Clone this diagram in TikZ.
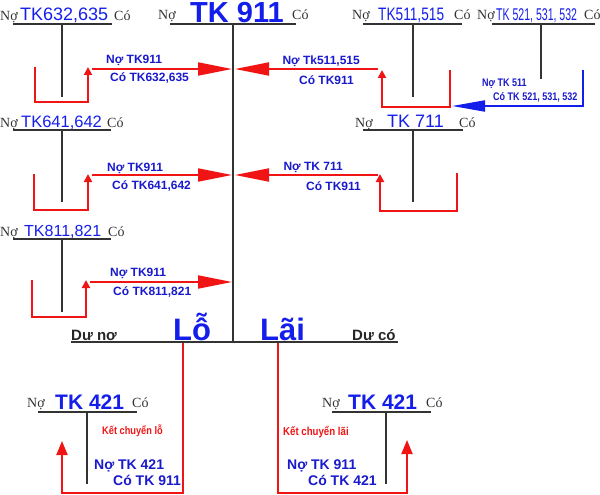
\documentclass[tikz,border=0pt]{standalone}
\usepackage{fontspec}
\setmainfont{Liberation Serif}
\newfontfamily\arialf{Liberation Sans}
\usetikzlibrary{arrows.meta}
\definecolor{tkblue}{RGB}{20,30,235}
\definecolor{lblblue}{RGB}{25,25,205}
\definecolor{tkred}{RGB}{240,20,20}
\begin{document}
\begin{tikzpicture}[x=1pt,y=-1pt,
 side/.style={font=\fontsize{14}{14}\selectfont, inner sep=0, text=black!80, anchor=base west},
 acct/.style={font=\arialf\fontsize{#1}{#1}\selectfont, text=tkblue, inner sep=0, anchor=base west},
 bigacct/.style={font=\arialf\bfseries\fontsize{#1}{#1}\selectfont, text=tkblue, inner sep=0, anchor=base west},
 lbl/.style={font=\arialf\bfseries\fontsize{12}{12}\selectfont, text=lblblue, inner sep=0},
 smlbl/.style={font=\arialf\bfseries\fontsize{11}{11}\selectfont, text=lblblue, inner sep=0, anchor=west},
 redlbl/.style={font=\arialf\bfseries\fontsize{#1}{#1}\selectfont, text=tkred, inner sep=0, anchor=west},
 duo/.style={font=\arialf\bfseries\fontsize{15}{15}\selectfont, text=black!85, inner sep=0, anchor=base west},
 tline/.style={line width=2pt, draw=black!80},
 rline/.style={line width=2pt, draw=tkred},
 bline/.style={line width=2pt, draw=tkblue},
 bigtip/.style={-{Triangle[length=34pt,width=13pt]}},
 bluetip/.style={-{Triangle[length=33pt,width=11pt]}},
 smalltip/.style={-{Triangle[length=8pt,width=8pt]}},
 uptip/.style={-{Triangle[length=14pt,width=11pt]}},
]
\useasboundingbox (0,0) rectangle (600,495);

% ---------- TK 911 ----------
\node[side] (n911) at (158,20) {Nợ};
\node[bigacct=29] (t911) at (190,23) {TK 911};
\node[side] (c911) at (292,20) {Có};
\coordinate (a911l) at (170,24); \coordinate (a911r) at (296,24);
\coordinate (v911t) at (233,24); \coordinate (v911b) at (233,342);
\draw[tline] (a911l) -- (a911r);
\draw[tline] (v911t) -- (v911b);

% ---------- TK632,635 ----------
\node[side] (n632) at (0,21) {Nợ};
\node[acct=18] (t632) at (20,21) {TK632,635};
\node[side] (c632) at (114,21) {Có};
\coordinate (a632l) at (13,24); \coordinate (a632r) at (112,24);
\coordinate (v632t) at (62,24); \coordinate (v632b) at (62,97);
\draw[tline] (a632l) -- (a632r);
\draw[tline] (v632t) -- (v632b);
\coordinate (u1a) at (35,67); \coordinate (u1c) at (88,102); \coordinate (u1d) at (88,67);
\draw[rline,smalltip] (u1a) |- (u1c) -- (u1d);
\coordinate (r1s) at (92,69); \coordinate (r1e) at (232,69);
\draw[rline,bigtip] (r1s) -- (r1e);
\node[lbl,anchor=west] (l1a) at (106,60) {Nợ TK911};
\node[lbl,anchor=west] (l1b) at (110,78) {Có TK632,635};

% ---------- TK641,642 ----------
\node[side] (n641) at (0,127) {Nợ};
\node[acct=16.5] (t641) at (21,127) {TK641,642};
\node[side] (c641) at (107,127) {Có};
\coordinate (a641l) at (13,130); \coordinate (a641r) at (111,130);
\coordinate (v641t) at (62,130); \coordinate (v641b) at (62,202);
\draw[tline] (a641l) -- (a641r);
\draw[tline] (v641t) -- (v641b);
\coordinate (u2a) at (34,174); \coordinate (u2c) at (88,210); \coordinate (u2d) at (88,174);
\draw[rline,smalltip] (u2a) |- (u2c) -- (u2d);
\coordinate (r2s) at (92,175); \coordinate (r2e) at (232,175);
\draw[rline,bigtip] (r2s) -- (r2e);
\node[lbl,anchor=west] (l2a) at (107,168) {Nợ TK911};
\node[lbl,anchor=west] (l2b) at (112,186) {Có TK641,642};

% ---------- TK811,821 ----------
\node[side] (n811) at (0,236) {Nợ};
\node[acct=16] (t811) at (24,236) {TK811,821};
\node[side] (c811) at (108,236) {Có};
\coordinate (a811l) at (13,239); \coordinate (a811r) at (111,239);
\coordinate (v811t) at (62,239); \coordinate (v811b) at (62,312);
\draw[tline] (a811l) -- (a811r);
\draw[tline] (v811t) -- (v811b);
\coordinate (u3a) at (32,280); \coordinate (u3c) at (86,317); \coordinate (u3d) at (86,280);
\draw[rline,smalltip] (u3a) |- (u3c) -- (u3d);
\coordinate (r3s) at (90,282); \coordinate (r3e) at (232,282);
\draw[rline,bigtip] (r3s) -- (r3e);
\node[lbl,anchor=west] (l3a) at (110,273) {Nợ TK911};
\node[lbl,anchor=west] (l3b) at (113,292) {Có TK811,821};

% ---------- TK511,515 ----------
\node[side] (n511) at (352,20) {Nợ};
\node[acct=18] (t511) at (378,21) {\scalebox{0.76}[1]{TK511,515}};
\node[side] (c511) at (454,20) {Có};
\coordinate (a511l) at (363,24); \coordinate (a511r) at (462,24);
\coordinate (v511t) at (413,24); \coordinate (v511b) at (413,97);
\draw[tline] (a511l) -- (a511r);
\draw[tline] (v511t) -- (v511b);
\coordinate (u4a) at (450,70); \coordinate (u4c) at (382,107); \coordinate (u4d) at (382,70);
\draw[rline,smalltip] (u4a) |- (u4c) -- (u4d);
\coordinate (r4s) at (378,69); \coordinate (r4e) at (235,69);
\draw[rline,bigtip] (r4s) -- (r4e);
\node[lbl,anchor=east] (l4a) at (360,61) {Nợ Tk511,515};
\node[lbl,anchor=east] (l4b) at (354,80) {Có TK911};

% ---------- TK 521, 531, 532 ----------
\node[side] (n521) at (477,20) {Nợ};
\node[acct=17] (t521) at (496,21) {\scalebox{0.62}[1]{TK 521, 531, 532}};
\node[side] (c521) at (584,20) {Có};
\coordinate (a521l) at (492,24); \coordinate (a521r) at (595,24);
\coordinate (v521t) at (541,24); \coordinate (v521b) at (541,79);
\draw[tline] (a521l) -- (a521r);
\draw[tline] (v521t) -- (v521b);
\coordinate (b1) at (583,70); \coordinate (b2) at (452,106);
\draw[bline,bluetip] (b1) |- (b2);
\node[smlbl] (l5a) at (482,84) {\scalebox{0.82}[1]{Nợ TK 511}};
\node[smlbl] (l5b) at (493,97) {\scalebox{0.82}[1]{Có TK 521, 531, 532}};

% ---------- TK 711 ----------
\node[side] (n711) at (355,127) {Nợ};
\node[acct=18] (t711) at (387,127) {TK 711};
\node[side] (c711) at (459,127) {Có};
\coordinate (a711l) at (363,130); \coordinate (a711r) at (463,130);
\coordinate (v711t) at (413,130); \coordinate (v711b) at (413,202);
\draw[tline] (a711l) -- (a711r);
\draw[tline] (v711t) -- (v711b);
\coordinate (u6a) at (457,173); \coordinate (u6c) at (380,211); \coordinate (u6d) at (380,174);
\draw[rline,smalltip] (u6a) |- (u6c) -- (u6d);
\coordinate (r6s) at (378,175); \coordinate (r6e) at (235,175);
\draw[rline,bigtip] (r6s) -- (r6e);
\node[lbl,anchor=east] (l6a) at (343,167) {Nợ TK 711};
\node[lbl,anchor=east] (l6b) at (361,186) {Có TK911};

% ---------- result line ----------
\node[duo] (duno) at (71,340) {Dư nơ};
\node[duo] (duco) at (352,340) {Dư có};
\node[bigacct=31] (lo) at (173,340) {Lỗ};
\node[bigacct=31] (lai) at (260,340) {Lãi};
\coordinate (resl) at (71,342); \coordinate (resr) at (398,342);
\draw[tline] (resl) -- (resr);

% ---------- TK 421 left ----------
\node[side] (n421a) at (27,407) {Nợ};
\node[bigacct=21] (t421a) at (55,409) {TK 421};
\node[side] (c421a) at (132,407) {Có};
\coordinate (a421al) at (38,412); \coordinate (a421ar) at (137,412);
\coordinate (v421at) at (87,412); \coordinate (v421ab) at (87,484);
\draw[tline] (a421al) -- (a421ar);
\draw[tline] (v421at) -- (v421ab);
\coordinate (lo1) at (183,343); \coordinate (lo2) at (62,493); \coordinate (lo3) at (62,441);
\draw[rline,uptip] (lo1) |- (lo2) -- (lo3);
\node[redlbl=11] (k1) at (102,431) {\scalebox{0.84}[1]{Kết chuyển lỗ}};
\node[lbl,anchor=west,font=\arialf\bfseries\fontsize{14}{14}\selectfont] (k1a) at (94,466) {Nợ TK 421};
\node[lbl,anchor=west,font=\arialf\bfseries\fontsize{14}{14}\selectfont] (k1b) at (113,480) {Có TK 911};

% ---------- TK 421 right ----------
\node[side] (n421b) at (322,407) {Nợ};
\node[bigacct=21] (t421b) at (348,409) {TK 421};
\node[side] (c421b) at (426,407) {Có};
\coordinate (a421bl) at (332,412); \coordinate (a421br) at (431,412);
\coordinate (v421bt) at (386,412); \coordinate (v421bb) at (386,484);
\draw[tline] (a421bl) -- (a421br);
\draw[tline] (v421bt) -- (v421bb);
\coordinate (la1) at (278,343); \coordinate (la2) at (407,493); \coordinate (la3) at (407,440);
\draw[rline,uptip] (la1) |- (la2) -- (la3);
\node[redlbl=11.5] (k2) at (283,432) {\scalebox{0.84}[1]{Kết chuyển lãi}};
\node[lbl,anchor=west,font=\arialf\bfseries\fontsize{14}{14}\selectfont] (k2a) at (287,466) {Nợ TK 911};
\node[lbl,anchor=west,font=\arialf\bfseries\fontsize{14}{14}\selectfont] (k2b) at (308,480) {Có TK 421};
\end{tikzpicture}
\end{document}
